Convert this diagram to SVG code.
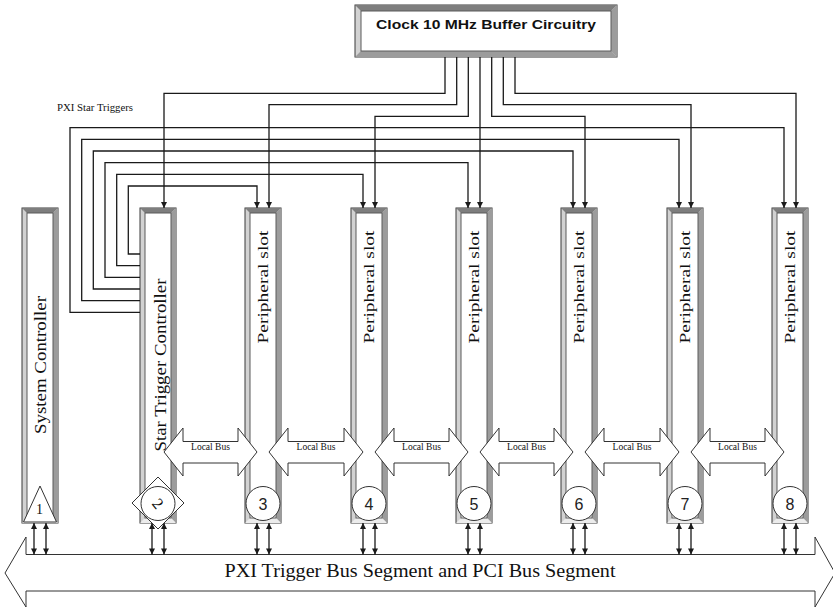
<svg xmlns="http://www.w3.org/2000/svg" width="833" height="608" viewBox="0 0 833 608">
<style>
.ln{fill:none;stroke:#1a1a1a;stroke-width:1.3}
.outer{fill:#d2d2d2;stroke:#3a3a3a;stroke-width:1}
.bvr{fill:#9c9c9c}
.bvt{fill:#7e7e7e}
.bvb{fill:#ececec}
.inner{fill:#fff;stroke:#5a5a5a;stroke-width:1}
.shape{fill:#fff;stroke:#333;stroke-width:1}
.serif{font-family:"Liberation Serif","Times New Roman",serif;fill:#111}
.vt{font-size:17px}
.ps{font-size:14px}
.lb{font-size:9.5px;text-anchor:middle}
.num{font-family:"Liberation Sans",Arial,sans-serif;font-size:16px;text-anchor:middle;fill:#222}
</style>
<defs>
<marker id="ah" viewBox="0 0 10 10" refX="10" refY="5" markerWidth="7" markerHeight="6" markerUnits="userSpaceOnUse" orient="auto-start-reverse">
<path d="M0,0 L10,5 L0,10 z" fill="#1a1a1a"/>
</marker>
</defs>
<rect width="833" height="608" fill="#fff"/>

<g id="bus">
<polygon class="shape" points="5,573 26,537 26,554.5 815,554.5 815,537 835,573 815,607 815,591 26,591 26,607"/>
<text class="serif" x="420" y="577" font-size="19" text-anchor="middle" textLength="391" lengthAdjust="spacingAndGlyphs">PXI Trigger Bus Segment and PCI Bus Segment</text>
</g>

<g id="clock">
<rect x="355" y="5" width="262" height="52" fill="#d2d2d2" stroke="#3a3a3a"/>
<polygon class="bvt" points="355,5 617,5 611,11 361,11"/>
<polygon class="bvr" points="617,5 617,57 611,51 611,11"/>
<polygon class="bvr" points="355,57 617,57 611,51 361,51"/>
<rect class="inner" x="361" y="11" width="250" height="40"/>
<text x="486" y="29" font-family="Liberation Sans,Arial,sans-serif" font-weight="bold" font-size="13.5" text-anchor="middle" textLength="220" lengthAdjust="spacingAndGlyphs" fill="#111">Clock 10 MHz Buffer Circuitry</text>
</g>

<text class="serif" x="57" y="111" font-size="9.5" textLength="76" lengthAdjust="spacingAndGlyphs">PXI Star Triggers</text>

<g id="slot1">
<rect class="outer" x="22" y="208" width="36" height="315"/>
<polygon class="bvt" points="22,208 58,208 53,213 27,213"/>
<polygon class="bvr" points="58,208 58,523 53,518 53,213"/>
<polygon class="bvb" points="22,523 58,523 53,518 27,518"/>
<rect class="inner" x="27" y="213" width="26" height="305"/>
<text class="serif vt" transform="translate(40,365) rotate(-90)" text-anchor="middle" dominant-baseline="central" textLength="138" lengthAdjust="spacingAndGlyphs">System Controller</text>
<polygon class="shape" points="40,486 23.5,522 56.5,522"/>
<text class="serif" x="39.5" y="514" font-size="14" text-anchor="middle">1</text>
</g>

<g id="slot2">
<rect class="outer" x="140" y="208" width="36" height="315"/>
<polygon class="bvt" points="140,208 176,208 171,213 145,213"/>
<polygon class="bvr" points="176,208 176,523 171,518 171,213"/>
<polygon class="bvb" points="140,523 176,523 171,518 145,518"/>
<rect class="inner" x="145" y="213" width="26" height="305"/>
<text class="serif vt" transform="translate(160,365) rotate(-90)" text-anchor="middle" dominant-baseline="central" textLength="173" lengthAdjust="spacingAndGlyphs">Star Trigger Controller</text>
</g>

<g id="slot3">
<rect class="outer" x="245" y="208" width="36" height="315"/>
<polygon class="bvt" points="245,208 281,208 276,213 250,213"/>
<polygon class="bvr" points="281,208 281,523 276,518 276,213"/>
<polygon class="bvb" points="245,523 281,523 276,518 250,518"/>
<rect class="inner" x="250" y="213" width="26" height="305"/>
<text class="serif ps" transform="translate(263,287) rotate(-90)" text-anchor="middle" dominant-baseline="central" textLength="113" lengthAdjust="spacingAndGlyphs">Peripheral slot</text>
</g>

<g id="slot4">
<rect class="outer" x="351" y="208" width="36" height="315"/>
<polygon class="bvt" points="351,208 387,208 382,213 356,213"/>
<polygon class="bvr" points="387,208 387,523 382,518 382,213"/>
<polygon class="bvb" points="351,523 387,523 382,518 356,518"/>
<rect class="inner" x="356" y="213" width="26" height="305"/>
<text class="serif ps" transform="translate(369,287) rotate(-90)" text-anchor="middle" dominant-baseline="central" textLength="113" lengthAdjust="spacingAndGlyphs">Peripheral slot</text>
</g>

<g id="slot5">
<rect class="outer" x="456" y="208" width="36" height="315"/>
<polygon class="bvt" points="456,208 492,208 487,213 461,213"/>
<polygon class="bvr" points="492,208 492,523 487,518 487,213"/>
<polygon class="bvb" points="456,523 492,523 487,518 461,518"/>
<rect class="inner" x="461" y="213" width="26" height="305"/>
<text class="serif ps" transform="translate(474,287) rotate(-90)" text-anchor="middle" dominant-baseline="central" textLength="113" lengthAdjust="spacingAndGlyphs">Peripheral slot</text>
</g>

<g id="slot6">
<rect class="outer" x="561" y="208" width="36" height="315"/>
<polygon class="bvt" points="561,208 597,208 592,213 566,213"/>
<polygon class="bvr" points="597,208 597,523 592,518 592,213"/>
<polygon class="bvb" points="561,523 597,523 592,518 566,518"/>
<rect class="inner" x="566" y="213" width="26" height="305"/>
<text class="serif ps" transform="translate(579,287) rotate(-90)" text-anchor="middle" dominant-baseline="central" textLength="113" lengthAdjust="spacingAndGlyphs">Peripheral slot</text>
</g>

<g id="slot7">
<rect class="outer" x="667" y="208" width="36" height="315"/>
<polygon class="bvt" points="667,208 703,208 698,213 672,213"/>
<polygon class="bvr" points="703,208 703,523 698,518 698,213"/>
<polygon class="bvb" points="667,523 703,523 698,518 672,518"/>
<rect class="inner" x="672" y="213" width="26" height="305"/>
<text class="serif ps" transform="translate(685,287) rotate(-90)" text-anchor="middle" dominant-baseline="central" textLength="113" lengthAdjust="spacingAndGlyphs">Peripheral slot</text>
</g>

<g id="slot8">
<rect class="outer" x="772" y="208" width="36" height="315"/>
<polygon class="bvt" points="772,208 808,208 803,213 777,213"/>
<polygon class="bvr" points="808,208 808,523 803,518 803,213"/>
<polygon class="bvb" points="772,523 808,523 803,518 777,518"/>
<rect class="inner" x="777" y="213" width="26" height="305"/>
<text class="serif ps" transform="translate(790,287) rotate(-90)" text-anchor="middle" dominant-baseline="central" textLength="113" lengthAdjust="spacingAndGlyphs">Peripheral slot</text>
</g>

<g id="connectors">
<path class="ln" marker-end="url(#ah)" d="M445,57 V93.3 H164 V208"/>
<path class="ln" marker-end="url(#ah)" d="M456.7,57 V104.7 H269 V208"/>
<path class="ln" marker-end="url(#ah)" d="M468.3,57 V116.3 H375 V208"/>
<path class="ln" marker-end="url(#ah)" d="M480,57 V208"/>
<path class="ln" marker-end="url(#ah)" d="M491.7,57 V116.3 H585 V208"/>
<path class="ln" marker-end="url(#ah)" d="M503.3,57 V104.7 H691 V208"/>
<path class="ln" marker-end="url(#ah)" d="M515,57 V93.3 H796 V208"/>
<path class="ln" marker-end="url(#ah)" d="M140,254 H128.3 V186 H257 V208"/>
<path class="ln" marker-end="url(#ah)" d="M140,265.7 H116.7 V174.3 H363 V208"/>
<path class="ln" marker-end="url(#ah)" d="M140,277.3 H105 V162.7 H468 V208"/>
<path class="ln" marker-end="url(#ah)" d="M140,289 H93.3 V151 H573 V208"/>
<path class="ln" marker-end="url(#ah)" d="M140,300.7 H81.7 V139.3 H679 V208"/>
<path class="ln" marker-end="url(#ah)" d="M140,312.3 H70 V127.7 H784 V208"/>
<g marker-start="url(#ah)" marker-end="url(#ah)" class="ln">
<line x1="34" y1="523" x2="34" y2="554.5"/><line x1="46" y1="523" x2="46" y2="554.5"/>
<line x1="152" y1="523" x2="152" y2="554.5"/><line x1="164" y1="523" x2="164" y2="554.5"/>
<line x1="257" y1="523" x2="257" y2="554.5"/><line x1="269" y1="523" x2="269" y2="554.5"/>
<line x1="363" y1="523" x2="363" y2="554.5"/><line x1="375" y1="523" x2="375" y2="554.5"/>
<line x1="468" y1="523" x2="468" y2="554.5"/><line x1="480" y1="523" x2="480" y2="554.5"/>
<line x1="573" y1="523" x2="573" y2="554.5"/><line x1="585" y1="523" x2="585" y2="554.5"/>
<line x1="679" y1="523" x2="679" y2="554.5"/><line x1="691" y1="523" x2="691" y2="554.5"/>
<line x1="784" y1="523" x2="784" y2="554.5"/><line x1="796" y1="523" x2="796" y2="554.5"/>
</g>
<g id="localbus">
<polygon class="shape" points="164,452 183,428 183,441.5 238,441.5 238,428 257,452 238,476 238,463 183,463 183,476"/>
<polygon class="shape" points="269,452 288,428 288,441.5 344,441.5 344,428 363,452 344,476 344,463 288,463 288,476"/>
<polygon class="shape" points="375,452 394,428 394,441.5 449,441.5 449,428 468,452 449,476 449,463 394,463 394,476"/>
<polygon class="shape" points="480,452 499,428 499,441.5 554,441.5 554,428 573,452 554,476 554,463 499,463 499,476"/>
<polygon class="shape" points="585,452 604,428 604,441.5 660,441.5 660,428 679,452 660,476 660,463 604,463 604,476"/>
<polygon class="shape" points="691,452 710,428 710,441.5 765,441.5 765,428 784,452 765,476 765,463 710,463 710,476"/>
<text class="serif lb" x="210.5" y="450">Local Bus</text>
<text class="serif lb" x="316" y="450">Local Bus</text>
<text class="serif lb" x="421.5" y="450">Local Bus</text>
<text class="serif lb" x="526.5" y="450">Local Bus</text>
<text class="serif lb" x="632" y="450">Local Bus</text>
<text class="serif lb" x="737.5" y="450">Local Bus</text>
</g>
</g>

<g id="slotnums">
<polygon class="shape" points="158,477 184,503 158,529 132,503"/>
<circle class="shape" cx="158" cy="503.5" r="17"/>
<text class="serif" font-size="16" text-anchor="middle" transform="translate(158,503.5) rotate(50)" dominant-baseline="central">2</text>
<circle class="shape" cx="263" cy="503.5" r="17"/>
<text class="num" x="263" y="509.5">3</text>
<circle class="shape" cx="369" cy="503.5" r="17"/>
<text class="num" x="369" y="509.5">4</text>
<circle class="shape" cx="474" cy="503.5" r="17"/>
<text class="num" x="474" y="509.5">5</text>
<circle class="shape" cx="579" cy="503.5" r="17"/>
<text class="num" x="579" y="509.5">6</text>
<circle class="shape" cx="685" cy="503.5" r="17"/>
<text class="num" x="685" y="509.5">7</text>
<circle class="shape" cx="790" cy="503.5" r="17"/>
<text class="num" x="790" y="509.5">8</text>
</g>
</svg>
